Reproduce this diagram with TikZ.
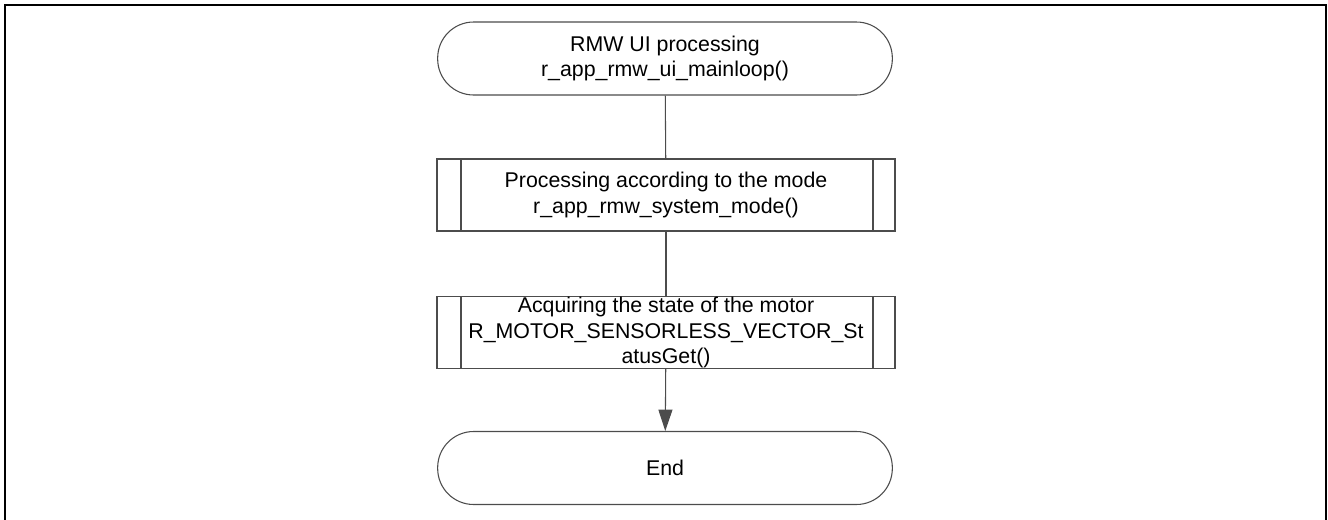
\documentclass[tikz,border=0pt]{standalone}
\usepackage{fontspec}
\setmainfont{Liberation Sans}
\usepackage{tikz}
\usetikzlibrary{arrows.meta}

\begin{document}
\begin{tikzpicture}[x=0.75pt,y=-0.75pt,
	terminal/.style={draw=black!70, line width=0.8pt, rounded corners=27pt,
		minimum width=341pt, minimum height=54.75pt, align=center,
		font=\fontsize{16}{19}\selectfont},
	subproc/.style={draw=black!70, line width=0.8pt, inner sep=0pt,
		minimum width=343.5pt, minimum height=54pt, align=center,
		font=\fontsize{16}{19}\selectfont,
		path picture={
			\draw[black!70, line width=0.8pt]
				([xshift=18pt]path picture bounding box.north west) -- ([xshift=18pt]path picture bounding box.south west)
				([xshift=-16.5pt]path picture bounding box.north east) -- ([xshift=-16.5pt]path picture bounding box.south east);
		}},
	flow/.style={draw=black!70, line width=0.8pt}]
	\useasboundingbox (0,0) rectangle (1328,519);
	\draw[line width=1.6pt] (5,525) -- (5,5) -- (1326,5) -- (1326,525);

	\node[terminal] (start) at (665,58.5) {RMW UI processing\\r\_app\_rmw\_ui\_mainloop()};
	\node[subproc] (mode) at (666,195) {Processing according to the mode\\r\_app\_rmw\_system\_mode()};
	\node[subproc] (state) at (666,332.5) {Acquiring the state of the motor\\R\_MOTOR\_SENSORLESS\_VECTOR\_St\\atusGet()};
	\node[terminal] (end) at (665,468) {End};

	\path [flow] (start) edge (mode);
	\path [flow] (mode) edge (state);
	\path [flow, -{Triangle[length=16pt,width=10.5pt,fill=black!70]}] (state) edge (end);
\end{tikzpicture}
\end{document}
